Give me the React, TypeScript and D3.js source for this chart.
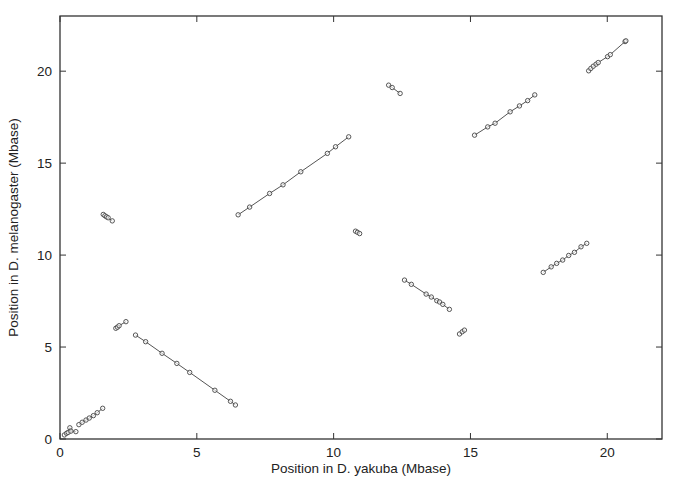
import React, { useEffect, useRef } from 'react';
import * as d3 from 'd3';

// syntenic blocks: position in D. yakuba (x) vs D. melanogaster (y), Mbase
const blockAX = [0.16, 0.24, 0.3, 0.36, 0.4, 0.58];
const blockAY = [0.22, 0.31, 0.36, 0.61, 0.43, 0.4];
const blockBX = [0.69, 0.81, 0.95, 1.07, 1.22, 1.36, 1.56];
const blockBY = [0.78, 0.91, 1.03, 1.14, 1.27, 1.43, 1.67];
const blockCX = [1.58, 1.64, 1.7, 1.76, 1.91];
const blockCY = [12.21, 12.14, 12.08, 12.03, 11.86];
const blockDX = [2.04, 2.1, 2.16, 2.41];
const blockDY = [6.02, 6.08, 6.16, 6.38];
const blockEX = [2.76, 3.13, 3.73, 4.27, 4.74, 5.66, 6.23, 6.41];
const blockEY = [5.65, 5.29, 4.66, 4.11, 3.62, 2.65, 2.05, 1.85];
const blockFX = [6.51, 6.93, 7.66, 8.15, 8.8, 9.77, 10.07, 10.55];
const blockFY = [12.19, 12.61, 13.35, 13.82, 14.53, 15.53, 15.89, 16.43];
const blockGX = [10.8, 10.87, 10.95];
const blockGY = [11.3, 11.24, 11.17];
const blockHX = [12.01, 12.14, 12.43];
const blockHY = [19.24, 19.11, 18.79];
const blockIX = [12.59, 12.84, 13.38, 13.57, 13.77, 13.87, 13.99, 14.23];
const blockIY = [8.64, 8.41, 7.88, 7.72, 7.52, 7.45, 7.32, 7.05];
const blockJX = [14.6, 14.7, 14.78];
const blockJY = [5.71, 5.83, 5.92];
const blockKX = [15.15, 15.63, 15.9, 16.45, 16.79, 17.09, 17.35];
const blockKY = [16.52, 16.97, 17.17, 17.79, 18.11, 18.4, 18.71];
const blockLX = [17.66, 17.95, 18.15, 18.37, 18.59, 18.8, 19.04, 19.25];
const blockLY = [9.06, 9.36, 9.55, 9.73, 9.98, 10.15, 10.45, 10.64];
const blockMX = [19.32, 19.4, 19.49, 19.59, 19.67, 20.01, 20.11, 20.65, 20.68];
const blockMY = [20.02, 20.15, 20.27, 20.38, 20.47, 20.79, 20.9, 21.61, 21.65];

const xTicks = [0, 5, 10, 15, 20];
const yTicks = [0, 5, 10, 15, 20];

const App = () => {
    const chart = useRef<SVGSVGElement>(null);

    useEffect(() => {
        const width = 685;
        const height = 479;
        const left = 60, right = 662, top = 16, bottom = 439;
        const font = 'Liberation Sans, Arial, Helvetica, sans-serif';

        const svg = d3.select(chart.current);
        svg.selectAll('*').remove();
        svg.attr('width', width).attr('height', height);

        const x = d3.scaleLinear().domain([0, 22]).range([left, right]);
        const y = d3.scaleLinear().domain([0, 23]).range([bottom, top]);

        const blocks = [
            [blockAX, blockAY], [blockBX, blockBY], [blockCX, blockCY],
            [blockDX, blockDY], [blockEX, blockEY], [blockFX, blockFY],
            [blockGX, blockGY], [blockHX, blockHY], [blockIX, blockIY],
            [blockJX, blockJY], [blockKX, blockKY], [blockLX, blockLY],
            [blockMX, blockMY],
        ].map(([xs, ys]) => xs.map((v, i) => [v, ys[i]] as [number, number]));

        const line = d3.line<[number, number]>()
            .x(d => x(d[0]))
            .y(d => y(d[1]));

        // ticks on all four sides, pointing inward
        const tickLen = 6;
        const axisColor = '#333';
        const ticks = svg.append('g').attr('stroke', axisColor).attr('stroke-width', 1);
        xTicks.forEach(t => {
            ticks.append('line').attr('x1', x(t)).attr('x2', x(t))
                .attr('y1', bottom).attr('y2', bottom - tickLen);
            ticks.append('line').attr('x1', x(t)).attr('x2', x(t))
                .attr('y1', top).attr('y2', top + tickLen);
        });
        yTicks.forEach(t => {
            ticks.append('line').attr('x1', left).attr('x2', left + tickLen)
                .attr('y1', y(t)).attr('y2', y(t));
            ticks.append('line').attr('x1', right).attr('x2', right - tickLen)
                .attr('y1', y(t)).attr('y2', y(t));
        });

        svg.append('rect')
            .attr('x', left).attr('y', top)
            .attr('width', right - left).attr('height', bottom - top)
            .attr('fill', 'none')
            .attr('stroke', axisColor)
            .attr('stroke-width', 1.3);

        svg.append('g')
            .selectAll('text')
            .data(xTicks)
            .join('text')
            .attr('x', d => x(d))
            .attr('y', bottom + 18)
            .attr('text-anchor', 'middle')
            .style('font-family', font)
            .style('font-size', '13.5px')
            .attr('fill', '#222')
            .text(d => d);

        svg.append('g')
            .selectAll('text')
            .data(yTicks)
            .join('text')
            .attr('x', left - 8)
            .attr('y', d => y(d) + 5)
            .attr('text-anchor', 'end')
            .style('font-family', font)
            .style('font-size', '13.5px')
            .attr('fill', '#222')
            .text(d => d);

        svg.append('text')
            .attr('x', (left + right) / 2)
            .attr('y', 473)
            .attr('text-anchor', 'middle')
            .style('font-family', font)
            .style('font-size', '13.5px')
            .attr('fill', '#222')
            .text('Position in D. yakuba (Mbase)');

        svg.append('text')
            .attr('transform', `translate(18, ${(top + bottom) / 2}) rotate(-90)`)
            .attr('text-anchor', 'middle')
            .style('font-family', font)
            .style('font-size', '13.5px')
            .attr('fill', '#222')
            .text('Position in D. melanogaster (Mbase)');

        const marks = svg.append('g');
        marks.selectAll('path')
            .data(blocks)
            .join('path')
            .attr('d', d => line(d))
            .attr('fill', 'none')
            .attr('stroke', '#555')
            .attr('stroke-width', 1);

        marks.append('g')
            .selectAll('circle')
            .data(blocks.flat())
            .join('circle')
            .attr('cx', d => x(d[0]))
            .attr('cy', d => y(d[1]))
            .attr('r', 2.2)
            .attr('fill', 'white')
            .attr('fill-opacity', 0.6)
            .attr('stroke', '#444')
            .attr('stroke-width', 0.9);
    }, []);

    return (
        <div style={{ position: 'absolute', left: 0, top: 0 }}>
            <svg ref={chart}></svg>
        </div>
    );
};

export default App;
